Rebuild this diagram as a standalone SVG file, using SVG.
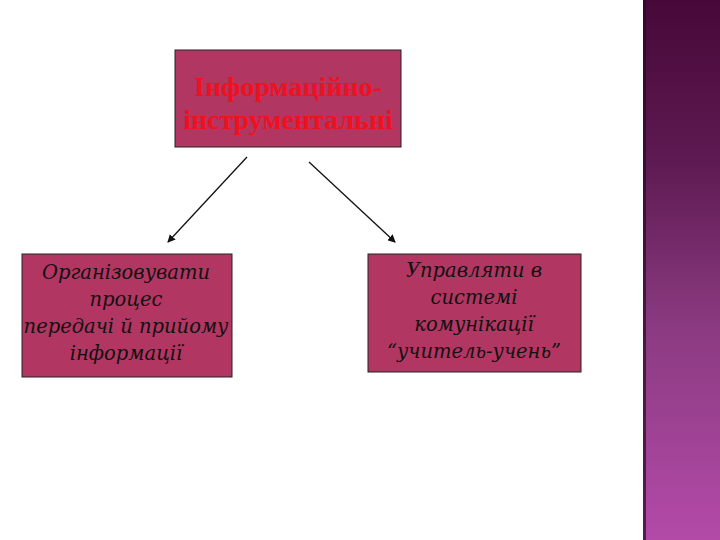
<svg xmlns="http://www.w3.org/2000/svg" width="720" height="540" viewBox="0 0 720 540">
<defs>
<linearGradient id="bar" x1="0" y1="0" x2="0" y2="1">
<stop offset="0" stop-color="#470838"/>
<stop offset="0.3" stop-color="#5e1a52"/>
<stop offset="0.6" stop-color="#8a3a80"/>
<stop offset="1" stop-color="#b34aa8"/>
</linearGradient>
<marker id="ah" markerWidth="8" markerHeight="8" refX="7" refY="4" orient="auto" markerUnits="userSpaceOnUse">
<path d="M0,0 L8,4 L0,8 z" fill="#111"/>
</marker>
<style>
.box{fill:#b13661;stroke:#222;stroke-width:1}
.t1{font-family:"Liberation Serif",serif;font-weight:bold;font-size:28px;fill:#f0101e;text-anchor:middle}
.t2{font-family:"DejaVu Serif",serif;font-style:italic;font-size:19.5px;fill:#111;text-anchor:middle}
.con{stroke:#111;stroke-width:1.3;fill:none;marker-end:url(#ah)}
</style>
</defs>
<rect width="720" height="540" fill="#fff"/>
<rect x="643" y="0" width="77" height="540" fill="url(#bar)"/>
<rect x="643" y="0" width="3" height="540" fill="#2a0a25" opacity="0.7"/>
<g id="top">
<rect class="box" x="175" y="50" width="226" height="97"/>
<text class="t1" x="288" y="96">Інформаційно-</text>
<text class="t1" x="288" y="129">інструментальні</text>
</g>
<g id="left">
<rect class="box" x="22" y="254" width="210" height="123"/>
<text class="t2" x="126" y="279">Організовувати</text>
<text class="t2" x="126" y="306">процес</text>
<text class="t2" x="126" y="333">передачі й прийому</text>
<text class="t2" x="126" y="360">інформації</text>
</g>
<g id="right">
<rect class="box" x="368" y="254" width="213" height="118"/>
<text class="t2" x="474" y="277">Управляти в</text>
<text class="t2" x="474" y="304">системі</text>
<text class="t2" x="474" y="331">комунікації</text>
<text class="t2" x="474" y="358">“учитель-учень”</text>
</g>
<g id="connectors">
<line class="con" x1="247" y1="157" x2="168" y2="242"/>
<line class="con" x1="309" y1="162" x2="395" y2="242"/>
</g>
</svg>
